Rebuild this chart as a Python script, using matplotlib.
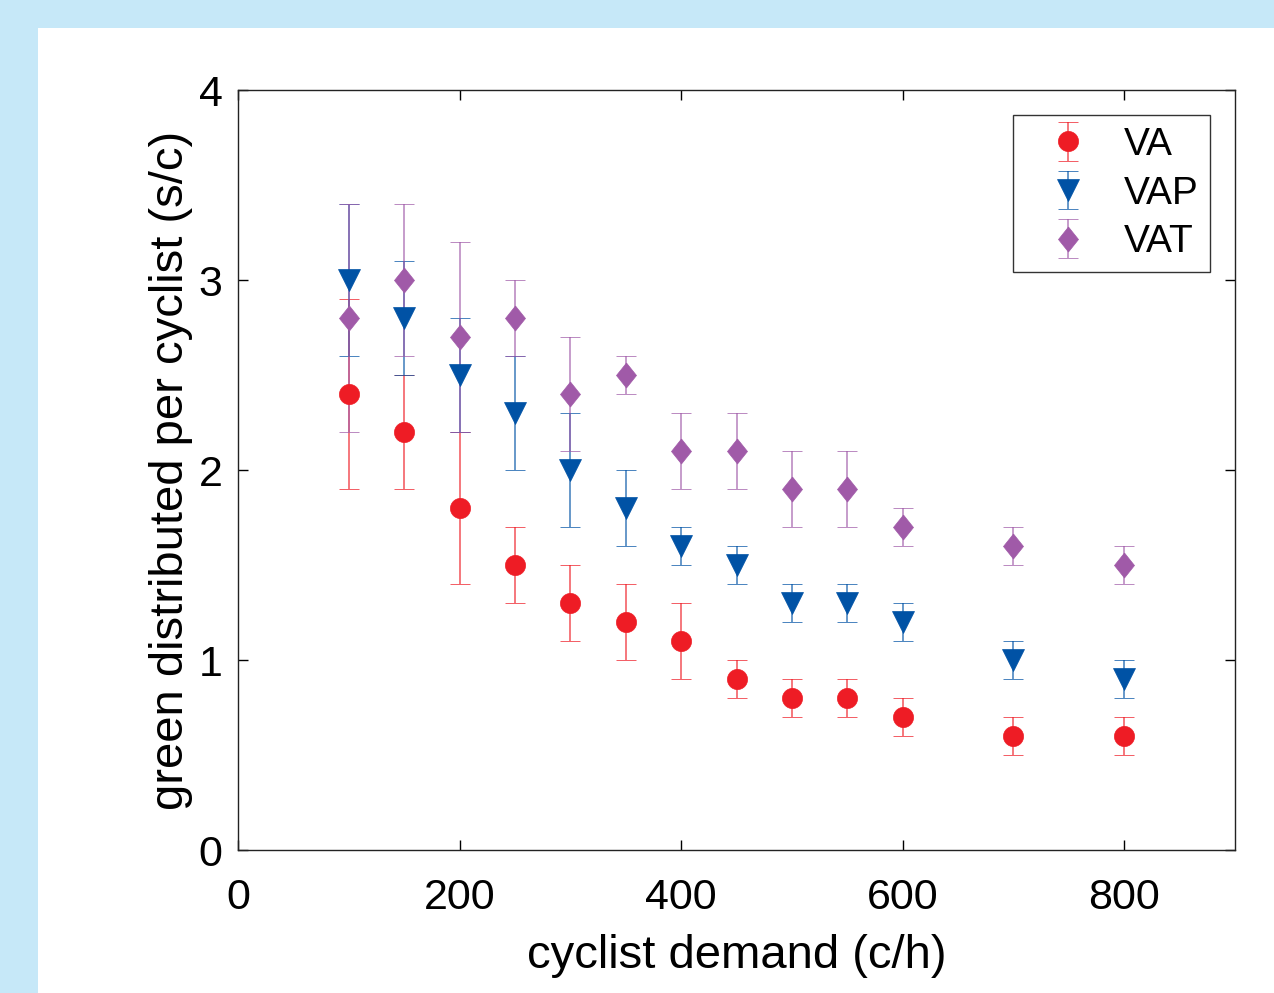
import numpy as np
import matplotlib
matplotlib.use('Agg')
import matplotlib.pyplot as plt
from matplotlib.patches import Rectangle

plt.rcParams['font.family'] = ['Liberation Sans', 'DejaVu Sans']

demand = [100, 150, 200, 250, 300, 350, 400, 450, 500, 550, 600, 700, 800]

va = [2.4, 2.2, 1.8, 1.5, 1.3, 1.2, 1.1, 0.9, 0.8, 0.8, 0.7, 0.6, 0.6]
va_lo = [1.9, 1.9, 1.4, 1.3, 1.1, 1.0, 0.9, 0.8, 0.7, 0.7, 0.6, 0.5, 0.5]
va_hi = [2.9, 2.5, 2.2, 1.7, 1.5, 1.4, 1.3, 1.0, 0.9, 0.9, 0.8, 0.7, 0.7]

vap = [3.0, 2.8, 2.5, 2.3, 2.0, 1.8, 1.6, 1.5, 1.3, 1.3, 1.2, 1.0, 0.9]
vap_lo = [2.6, 2.5, 2.2, 2.0, 1.7, 1.6, 1.5, 1.4, 1.2, 1.2, 1.1, 0.9, 0.8]
vap_hi = [3.4, 3.1, 2.8, 2.6, 2.3, 2.0, 1.7, 1.6, 1.4, 1.4, 1.3, 1.1, 1.0]

vat = [2.8, 3.0, 2.7, 2.8, 2.4, 2.5, 2.1, 2.1, 1.9, 1.9, 1.7, 1.6, 1.5]
vat_lo = [2.2, 2.6, 2.2, 2.6, 2.1, 2.4, 1.9, 1.9, 1.7, 1.7, 1.6, 1.5, 1.4]
vat_hi = [3.4, 3.4, 3.2, 3.0, 2.7, 2.6, 2.3, 2.3, 2.1, 2.1, 1.8, 1.7, 1.6]

# tall diamond like matlab's
diamond = [(0, 1), (0.8, 0), (0, -1), (-0.8, 0), (0, 1)]

series = [
    ("VA", va, va_lo, va_hi, "#ee1c25", "o", 14.5),
    ("VAP", vap, vap_lo, vap_hi, "#0052a5", "v", 16),
    ("VAT", vat, vat_lo, vat_hi, "#a05aa8", diamond, 18),
]

fig = plt.figure(figsize=(12.74, 9.93), dpi=100)
fig.patch.set_facecolor("#c6e8f8")
fig.patches.append(Rectangle((38 / 1274, 0), 1, 1 - 28 / 993, transform=fig.transFigure,
                             facecolor="white", edgecolor="none", zorder=-10))
ax = fig.add_axes([238 / 1274, 1 - 850 / 993, (1235 - 238) / 1274, (850 - 90) / 993])
ax.set_zorder(5)

for name, y, lo, hi, col, mk, ms in series:
    y = np.array(y)
    err = [y - np.array(lo), np.array(hi) - y]
    line, caps, bars = ax.errorbar(demand, y, yerr=err, linestyle="none", marker=mk,
                                   color=col, ms=ms, mec=col, mew=0.5, capsize=7,
                                   elinewidth=1.4, capthick=1.4, label=name)
    for b in bars:
        b.set_alpha(0.6)

ax.set_xlim(0, 900)
ax.set_ylim(0, 4)
ax.set_xticks([0, 200, 400, 600, 800])
ax.set_yticks([0, 1, 2, 3, 4])
ax.tick_params(direction="in", length=7, width=1, top=True, right=True, labelsize=31)
ax.tick_params(axis="x", pad=20)
ax.tick_params(axis="y", pad=11)
for s in ax.spines.values():
    s.set_linewidth(1)
    s.set_color("#222222")
ax.set_xlabel("cyclist demand (c/h)", fontsize=34, labelpad=12)
ax.set_ylabel("green distributed per cyclist (s/c)", fontsize=34, labelpad=4)

leg = ax.legend(loc="upper right", fontsize=28, frameon=True, fancybox=False,
                edgecolor="black", borderpad=0.3, handletextpad=0.3, labelspacing=0.33,
                handlelength=2.25, borderaxespad=0, bbox_to_anchor=(0.975, 0.967))
leg.get_frame().set_linewidth(1)

fig.savefig("out.png", dpi=100)
